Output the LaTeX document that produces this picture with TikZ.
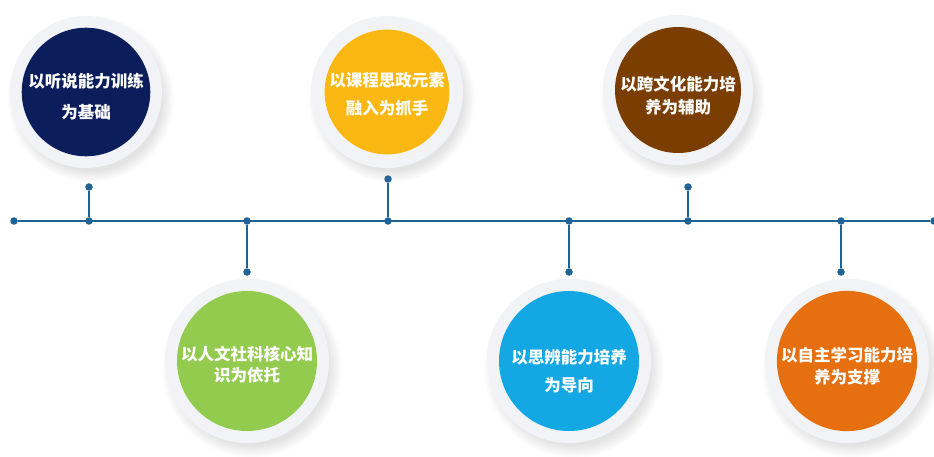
\documentclass[tikz,border=0pt]{standalone}
\usepackage{fontspec}
\newfontfamily\cjk{Noto Sans CJK SC}
\usetikzlibrary{shadows}
\definecolor{lineblue}{HTML}{1F6396}
\definecolor{ringgray}{HTML}{F1F3F6}
\definecolor{navy}{HTML}{0B1E5B}
\definecolor{leaf}{HTML}{93CB4F}
\definecolor{gold}{HTML}{FCB812}
\definecolor{sky}{HTML}{13A7E3}
\definecolor{rust}{HTML}{7A3E02}
\definecolor{tangerine}{HTML}{E66F0F}
% pushes the text of a disc down a little
\newcommand\drop[1]{\rule{0pt}{#1}}
\begin{document}
\begin{tikzpicture}[x=1pt,y=-1pt,
ring/.style={circle,fill=ringgray,inner sep=0pt,minimum size=#1,
  circular drop shadow={shadow xshift=4pt,shadow yshift=-6pt,opacity=.22}},
disc/.style={circle,fill=#1,inner sep=0pt,text=white,align=center,
  font=\cjk\bfseries\fontsize{16.5}{28}\selectfont},
dot/.style={circle,fill=lineblue,inner sep=0pt,minimum size=7.5pt},
stem/.style={draw=lineblue,line width=2.8pt}]
\useasboundingbox (0,0) rectangle (934,457);

% time line
\node[dot] (t0) at (14,221) {};
\node[dot] (t7) at (934,221) {};
\draw[stem] (t0) -- (t7);
\foreach \x/\y/\n in {89/187/1,247/272/2,388/179/3,569/272/4,688/187/5,841/272/6}{
  \node[dot] (j\n) at (\x,221) {};
  \node[dot] (e\n) at (\x,\y) {};
  \draw[stem] (j\n) -- (e\n);
}

% upper circles
\node[ring=152pt] (r1) at (86,92) {};
\node[disc=navy,minimum size=126pt,font=\cjk\bfseries\fontsize{16.5}{31}\selectfont] (c1) at (r1) {\drop{24pt}以听说能力训练\\为基础};
\node[ring=152pt] (r3) at (387,92) {};
\node[disc=gold,minimum size=124pt] (c3) at (r3) {\drop{18pt}以课程思政元素\\融入为抓手};
\node[ring=150pt] (r5) at (678,90) {};
\node[disc=rust,minimum size=126pt,font=\cjk\bfseries\fontsize{16.5}{23}\selectfont] (c5) at (r5) {\drop{26pt}以跨文化能力培\\养为辅助};

% lower circles
\node[ring=164pt] (r2) at (247,361) {};
\node[disc=leaf,minimum size=140pt,font=\cjk\bfseries\fontsize{16.5}{21}\selectfont] (c2) at (r2) {\drop{22pt}以人文社科核心知\\识为依托};
\node[ring=164pt] (r4) at (569,361) {};
\node[disc=sky,minimum size=140pt] (c4) at (r4) {\drop{34pt}以思辨能力培养\\为导向};
\node[ring=164pt] (r6) at (847,361) {};
\node[disc=tangerine,minimum size=140pt,font=\cjk\bfseries\fontsize{16.5}{22}\selectfont] (c6) at (r6) {\drop{24pt}以自主学习能力培\\养为支撑};
\end{tikzpicture}
\end{document}
